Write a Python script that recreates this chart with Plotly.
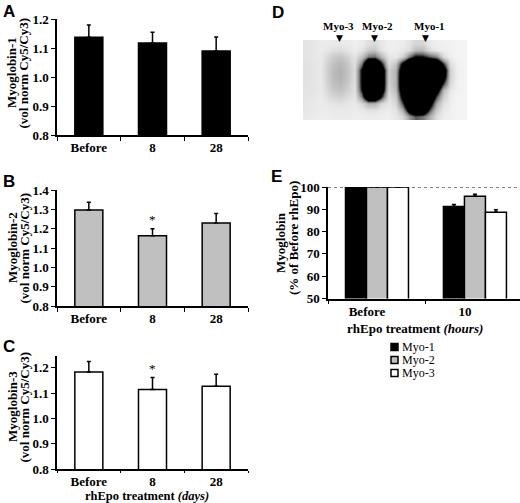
import plotly.graph_objects as go

W, H = 520, 503

# panels A-C: rhEpo treatment (days)
days = ["Before", "8", "28"]
myo1 = [1.138, 1.118, 1.090]
myo1_err = [0.042, 0.037, 0.049]
myo2 = [1.297, 1.164, 1.229]
myo2_err = [0.040, 0.035, 0.050]
myo3 = [1.183, 1.114, 1.127]
myo3_err = [0.041, 0.047, 0.047]

# panel E: rhEpo treatment (hours), % of before
hours = ["Before", "10"]
e_myo1 = [100, 91.3]
e_myo1_err = [0, 0.9]
e_myo2 = [100, 95.8]
e_myo2_err = [0, 1.0]
e_myo3 = [100, 88.7]
e_myo3_err = [0, 1.1]

# panel D: gel spot intensities (12 rows x 24 cols)
gel = [
    [0.10, 0.09, 0.07, 0.07, 0.08, 0.08, 0.07, 0.06, 0.07, 0.12, 0.14, 0.08, 0.06, 0.06, 0.07, 0.10, 0.16, 0.16, 0.08, 0.06, 0.05, 0.05, 0.04, 0.04],
    [0.10, 0.09, 0.07, 0.09, 0.12, 0.13, 0.10, 0.07, 0.10, 0.20, 0.22, 0.10, 0.06, 0.06, 0.08, 0.13, 0.26, 0.26, 0.13, 0.07, 0.06, 0.05, 0.04, 0.04],
    [0.10, 0.09, 0.08, 0.14, 0.20, 0.22, 0.17, 0.10, 0.22, 0.42, 0.45, 0.26, 0.09, 0.08, 0.16, 0.42, 0.60, 0.58, 0.48, 0.40, 0.12, 0.06, 0.04, 0.04],
    [0.11, 0.10, 0.08, 0.17, 0.24, 0.27, 0.21, 0.12, 0.42, 1.00, 1.00, 0.58, 0.13, 0.22, 0.65, 1.00, 1.00, 1.00, 1.00, 0.92, 0.52, 0.13, 0.05, 0.04],
    [0.11, 0.10, 0.08, 0.18, 0.26, 0.29, 0.23, 0.13, 0.62, 1.00, 1.00, 0.82, 0.18, 0.28, 0.82, 1.00, 1.00, 1.00, 1.00, 1.00, 0.78, 0.18, 0.06, 0.04],
    [0.11, 0.10, 0.08, 0.18, 0.26, 0.29, 0.23, 0.13, 0.62, 1.00, 1.00, 0.82, 0.18, 0.28, 0.88, 1.00, 1.00, 1.00, 1.00, 1.00, 0.72, 0.18, 0.06, 0.04],
    [0.11, 0.10, 0.08, 0.17, 0.24, 0.27, 0.21, 0.12, 0.62, 1.00, 1.00, 0.82, 0.18, 0.28, 0.88, 1.00, 1.00, 1.00, 1.00, 0.95, 0.52, 0.15, 0.05, 0.04],
    [0.10, 0.10, 0.08, 0.15, 0.21, 0.23, 0.18, 0.11, 0.58, 1.00, 1.00, 0.78, 0.15, 0.26, 0.82, 1.00, 1.00, 1.00, 1.00, 0.75, 0.26, 0.09, 0.05, 0.04],
    [0.10, 0.09, 0.07, 0.12, 0.16, 0.18, 0.14, 0.09, 0.42, 1.00, 1.00, 0.56, 0.12, 0.20, 0.70, 1.00, 1.00, 1.00, 0.95, 0.50, 0.18, 0.07, 0.04, 0.04],
    [0.09, 0.08, 0.07, 0.08, 0.10, 0.11, 0.09, 0.08, 0.14, 0.28, 0.28, 0.14, 0.09, 0.15, 0.50, 1.00, 1.00, 1.00, 0.72, 0.30, 0.11, 0.06, 0.04, 0.04],
    [0.09, 0.08, 0.07, 0.07, 0.08, 0.08, 0.08, 0.07, 0.08, 0.11, 0.11, 0.08, 0.07, 0.10, 0.30, 0.75, 1.00, 0.95, 0.50, 0.20, 0.08, 0.05, 0.04, 0.04],
    [0.08, 0.07, 0.06, 0.06, 0.07, 0.07, 0.07, 0.06, 0.06, 0.07, 0.07, 0.06, 0.06, 0.08, 0.15, 0.35, 0.48, 0.44, 0.30, 0.12, 0.06, 0.05, 0.04, 0.04],
]
spot_names = ["Myo-3", "Myo-2", "Myo-1"]

SERIF = "Liberation Serif"
SANS = "Liberation Sans"
GRAY = "#c0c0c0"


def px(x):
    return x / W


def py(y):
    return 1 - y / H


def err_bar(err):
    return dict(type="data", symmetric=False, array=err, arrayminus=[0] * len(err),
                color="black", thickness=1.5, width=2)


fig = go.Figure()

panels = [
    (myo1, myo1_err, "black", "x", "y"),
    (myo2, myo2_err, GRAY, "x2", "y2"),
    (myo3, myo3_err, "white", "x3", "y3"),
]
for vals, err, col, xa, ya in panels:
    fig.add_trace(go.Bar(
        x=days, y=vals, width=0.44, marker=dict(color=col, line=dict(color="black", width=1.5)),
        error_y=err_bar(err), xaxis=xa, yaxis=ya, showlegend=False, hoverinfo="y",
    ))

e_series = [("Myo-1", e_myo1, e_myo1_err, "black"),
            ("Myo-2", e_myo2, e_myo2_err, GRAY),
            ("Myo-3", e_myo3, e_myo3_err, "white")]
for name, vals, err, col in e_series:
    fig.add_trace(go.Bar(
        x=hours, y=vals, name=name, marker=dict(color=col, line=dict(color="black", width=1.5)),
        error_y=err_bar(err), xaxis="x4", yaxis="y4", showlegend=False,
    ))

fig.add_trace(go.Heatmap(
    z=gel, zsmooth="best", zmin=0, zmax=1, showscale=False, xaxis="x5", yaxis="y5",
    colorscale=[[0, "#ffffff"], [0.06, "#eeeeee"], [0.15, "#d8d8d8"], [0.3, "#b0b0b0"],
                [0.45, "#707070"], [0.55, "#202020"], [0.62, "#000000"], [1, "#000000"]],
    hoverinfo="skip",
))

tick_font = dict(family=SERIF, size=13, color="black", weight="bold")
xa_style = dict(type="category", showline=True, linecolor="black", linewidth=1.5,
                ticks="outside", tickson="boundaries", ticklen=4, tickcolor="black",
                tickfont=tick_font, showgrid=False, fixedrange=True, automargin=False,
                tickangle=0)
ya_style = dict(showline=True, linecolor="black", linewidth=1.5, ticks="outside",
                ticklen=4, tickcolor="black", tickfont=tick_font, showgrid=False,
                zeroline=False, tickformat=".1f", dtick=0.1, automargin=False, fixedrange=True)

fig.update_layout(
    template="none",
    font=dict(family=SERIF, color="black"),
    width=W, height=H, margin=dict(l=0, r=0, t=0, b=0, autoexpand=False),
    paper_bgcolor="white", plot_bgcolor="white",
    barmode="group", bargap=0.357, bargroupgap=0,
    xaxis=dict(xa_style, domain=[px(57), px(248)], anchor="y", range=[-0.5, 2.5]),
    yaxis=dict(ya_style, domain=[py(135), py(19.3)], range=[0.8, 1.2], anchor="x"),
    xaxis2=dict(xa_style, domain=[px(57), px(248)], anchor="y2", range=[-0.5, 2.5]),
    yaxis2=dict(ya_style, domain=[py(306), py(190)], range=[0.8, 1.4], anchor="x2"),
    xaxis3=dict(xa_style, domain=[px(57), px(248)], anchor="y3", range=[-0.5, 2.5],
                ticklen=2),
    yaxis3=dict(ya_style, domain=[py(469), py(356.3)], range=[0.8, 1.245], anchor="x3"),
    xaxis4=dict(xa_style, domain=[px(328), 1], anchor="y4", range=[-0.5, 1.46],
                ticklabelshift=-10),
    yaxis4=dict(ya_style, domain=[py(298.5), py(187)], range=[50, 100], anchor="x4",
                dtick=10, tickformat="d"),
    xaxis5=dict(domain=[px(303), px(467)], anchor="y5", range=[-0.5, 23.5],
                visible=False, fixedrange=True),
    yaxis5=dict(domain=[py(120), py(40)], anchor="x5", range=[11.5, -0.5],
                visible=False, fixedrange=True),
    showlegend=False,
)

# dotted reference line at 100 %
fig.add_shape(type="line", xref="x4 domain", yref="y4", x0=0, x1=1, y0=100, y1=100,
              line=dict(color="black", width=1, dash="dot"))

ann = []
title_font = dict(family=SERIF, size=13, color="black", weight="bold")


def label(x, y, text, font, angle=0, xanchor="center", yanchor="middle"):
    ann.append(dict(x=px(x), y=py(y), xref="paper", yref="paper", text=text, textangle=angle,
                    showarrow=False, font=font, xanchor=xanchor, yanchor=yanchor))


for cy, n in [(73, "1"), (248, "2"), (407, "3")]:
    label(12, cy, "Myoglobin-" + n, title_font, -90)
    label(23.5, cy, "(vol norm Cy5/Cy3)", title_font, -90)
label(280, 243, "Myoglobin", title_font, -90)
label(293, 238, "(% of Before rhEpo)", title_font, -90)

label(147, 495.5, "rhEpo treatment <i>(days)</i>", dict(title_font, size=12.5))
label(415, 328, "rhEpo treatment <i>(hours)</i>", title_font)

# significance marks over day 8 (category index 1)
for vals, err, xr, yr in [(myo2, myo2_err, "x2", "y2"), (myo3, myo3_err, "x3", "y3")]:
    ann.append(dict(x=1, y=vals[1] + err[1], xref=xr, yref=yr, text="*", showarrow=False,
                    xanchor="center", yanchor="bottom",
                    font=dict(family=SERIF, size=13, color="black")))

# panel letters
letter_font = dict(family=SANS, size=17, color="black", weight="bold")
for letter, x, y in [("A", 1, 0), ("B", 1, 170), ("C", 1, 335), ("D", 270, 1), ("E", 269, 165)]:
    label(x, y, letter, letter_font, xanchor="left", yanchor="top")

# gel spot labels with arrowheads
spot_font = dict(family=SERIF, size=11, color="black", weight="bold")
arrow_font = dict(family="DejaVu Sans", size=9, color="black")
for name, lx, ax in zip(spot_names, [338, 377.5, 429], [339, 374, 425]):
    label(lx, 26, name, spot_font)
    label(ax, 38, "▼", arrow_font)

# legend for panel E: small swatches with labels
legend_font = dict(family=SERIF, size=12, color="black")
for i, (name, _, _, col) in enumerate(e_series):
    cy = 347 + 13 * i
    fig.add_shape(type="rect", xref="paper", yref="paper", x0=px(391), x1=px(398),
                  y0=py(cy + 3.5), y1=py(cy - 3.5), fillcolor=col,
                  line=dict(color="black", width=1.5))
    label(400, cy, name, legend_font, xanchor="left")

fig.update_layout(annotations=ann)

# the page body has a default 8px margin; drop it so the figure fills the window
fig.write_html("out.html", config={"displayModeBar": False},
               post_script="document.body.style.margin='0';")
